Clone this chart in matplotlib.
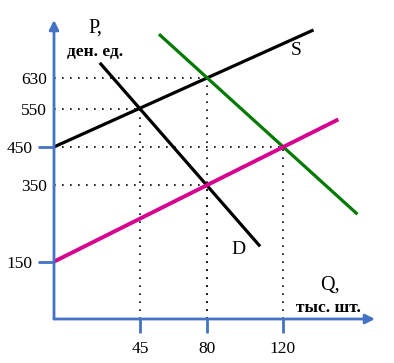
import numpy as np
import matplotlib.pyplot as plt

plt.rcParams['font.family'] = ['Liberation Serif', 'DejaVu Serif']

# curves (Q, P) end points
s_q = [0, 136]
s_p = [450, 756]
d_q = [24, 108]
d_p = [670, 190]
d2_q = [55, 159]
d2_p = [745, 274]
s2_q = [0, 149]
s2_p = [150, 522]

# equilibrium / reference points
eq_q = [45, 80, 120, 80]
eq_p = [550, 630, 450, 350]

x_ticks = [45, 80, 120]
y_major = [450, 150]
y_minor = [630, 550, 350]

blue = '#4472c4'

fig = plt.figure(figsize=(3.94, 3.63), dpi=100)
ax = fig.add_axes([54/394, 44/363, 321/394, 299/363])
ax.set_xlim(0, 168.2)
ax.set_ylim(0, 782)
for sp in ax.spines.values():
    sp.set_visible(False)

# axes with arrows
ax.annotate('', xy=(0, 1), xytext=(0, 0), xycoords='axes fraction',
            arrowprops=dict(arrowstyle='-|>', color=blue, lw=2, mutation_scale=14,
                            shrinkA=0, shrinkB=0), annotation_clip=False)
ax.annotate('', xy=(1, 0), xytext=(0, 0), xycoords='axes fraction',
            arrowprops=dict(arrowstyle='-|>', color=blue, lw=2, mutation_scale=14,
                            shrinkA=0, shrinkB=0), annotation_clip=False)

# dotted guides
for q, p in zip(eq_q, eq_p):
    ax.plot([0, q], [p, p], color='black', lw=1.2, ls=(0, (1, 3.8)))
    ax.plot([q, q], [0, p], color='black', lw=1.2, ls=(0, (1, 3.8)))

ax.plot(s_q, s_p, color='black', lw=2.3, solid_capstyle='butt')
ax.plot(d_q, d_p, color='black', lw=2.3, solid_capstyle='butt')
ax.plot(d2_q, d2_p, color='#007a00', lw=2.3, solid_capstyle='butt')
ax.plot(s2_q, s2_p, color='#d6008f', lw=2.8, solid_capstyle='butt')

ax.set_xticks(x_ticks)
ax.set_yticks(y_major)
ax.set_yticks(y_minor, minor=True)
ax.tick_params(axis='x', which='major', direction='out', length=10, width=2,
               color=blue, pad=6, labelsize=12.5)
ax.tick_params(axis='y', which='major', direction='out', length=11.5, width=2,
               color=blue, pad=4, labelsize=12.5)
ax.tick_params(axis='y', which='minor', length=0, pad=5, labelsize=12.5)
ax.set_yticklabels([str(v) for v in y_minor], minor=True)

ax.text(21.5, 761, 'P,', fontsize=14.5, ha='center', va='center')
ax.text(21.5, 698, 'ден. ед.', fontsize=12.5, fontweight='bold', ha='center', va='center')
ax.text(126.8, 703, 'S', fontsize=14, ha='center', va='center')
ax.text(96.4, 183, 'D', fontsize=14, ha='center', va='center')
ax.text(144.7, 89, 'Q,', fontsize=14.5, ha='center', va='center')
ax.text(144, 30, 'тыс. шт.', fontsize=12.5, fontweight='bold', ha='center', va='center')

fig.savefig('out.png', dpi=100)
